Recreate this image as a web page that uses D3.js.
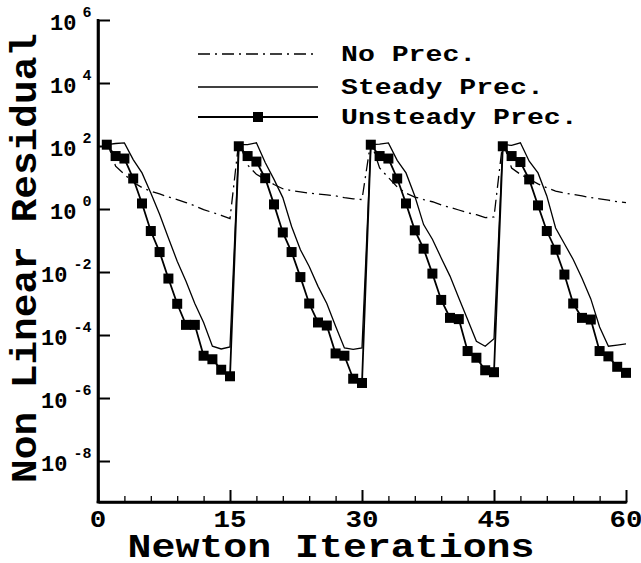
<!DOCTYPE html>
<html>
<head>
<meta charset="utf-8">
<script src="https://cdn.jsdelivr.net/npm/d3@7/dist/d3.min.js"></script>
<style>
  html, body { margin: 0; padding: 0; background: #fff; }
  svg { display: block; }
  text { font-family: "Liberation Mono", "DejaVu Sans Mono", monospace; font-weight: bold; fill: #000; }
</style>
</head>
<body>
<svg id="chart" width="641" height="563"></svg>
<script>
// ---------------- data ----------------
const iterations = [1,2,3,4,5,6,7,8,9,10,11,12,13,14,15,16,17,18,19,20,
  21,22,23,24,25,26,27,28,29,30,31,32,33,34,35,36,37,38,39,40,
  41,42,43,44,45,46,47,48,49,50,51,52,53,54,55,56,57,58,59,60];

const noPrec = [1.4e2,2.3e1,1.26e1,7.1,4.8,3.7,3.0,2.4,2.0,1.6,1.26,0.95,0.78,0.63,0.50,
  1.4e2,2.5e1,1.26e1,8.7,6.0,4.4,3.8,3.5,3.2,3.0,2.8,2.6,2.3,2.1,2.0,
  1.4e2,2.0e1,1.0e1,5.0,3.2,2.4,2.0,1.7,1.35,1.12,0.93,0.76,0.66,0.53,0.56,
  1.4e2,2.0e1,1.26e1,8.9,6.3,4.7,3.7,3.2,2.9,2.6,2.3,2.1,1.9,1.7,1.6];

const steadyPrec = [1.1e2,1.2e2,1.26e2,3.7e1,1.4e1,3.2,6.8e-1,1.2e-1,2.2e-2,5.1e-3,1.0e-3,2.5e-4,4.4e-5,3.6e-5,4.2e-5,
  1.1e2,1.1e2,1.26e2,3.0e1,8.7,2.3,2.8e-1,5.1e-2,1.5e-2,3.5e-3,1.0e-3,1.9e-4,3.9e-5,3.5e-5,3.9e-5,
  1.1e2,1.15e2,1.26e2,3.5e1,1.4e1,2.6,3.2e-1,1.1e-1,2.8e-2,7.4e-3,1.5e-3,3.1e-4,6.3e-5,4.4e-5,7.6e-5,
  1.1e2,1.05e2,1.26e2,3.3e1,1.4e1,2.6,2.5e-1,7.9e-2,2.5e-2,6.3e-3,1.4e-3,1.8e-4,4.4e-5,4.8e-5,5.2e-5];

const unsteadyPrec = [1.1e2,4.8e1,4.0e1,9.3,1.5,2.0e-1,4.3e-2,6.2e-3,9.8e-4,2.1e-4,2.1e-4,2.2e-5,1.7e-5,7.9e-6,4.9e-6,
  9.8e1,4.8e1,3.2e1,9.5,1.4,1.8e-1,4.3e-2,6.9e-3,1.0e-3,2.5e-4,2.0e-4,2.6e-5,2.2e-5,4.1e-6,3.0e-6,
  1.1e2,4.8e1,4.0e1,9.3,1.5,2.1e-1,5.5e-2,8.9e-3,1.3e-3,3.5e-4,3.2e-4,3.1e-5,1.9e-5,7.6e-6,6.6e-6,
  9.8e1,4.8e1,3.1e1,8.7,1.3,2.0e-1,5.1e-2,8.3e-3,1.0e-3,3.5e-4,3.1e-4,3.1e-5,2.1e-5,9.8e-6,6.3e-6];

const xTicks = [0, 15, 30, 45, 60];
const xMinorTicks = [3,6,9,12,18,21,24,27,33,36,39,42,48,51,54,57];
const yTickExponents = [6, 4, 2, 0, -2, -4, -6, -8];
const seriesNames = ["No Prec.", "Steady Prec.", "Unsteady Prec."];
const xTitle = "Newton Iterations";
const yTitle = "Non Linear Residual";

// ---------------- layout ----------------
const svg = d3.select("#chart");
const x = d3.scaleLinear().domain([0, 60]).range([98, 626]);
const y = d3.scaleLog().domain([5e-10, 1e6]).range([502, 20]);

// series lines
const line = vals => d3.line()
  .x((d, i) => x(iterations[i]))
  .y(d => y(d))(vals);

svg.append("path").attr("d", line(noPrec))
  .attr("fill", "none").attr("stroke", "#000").attr("stroke-width", 1.3)
  .attr("stroke-dasharray", "12,5,2,5");
svg.append("path").attr("d", line(steadyPrec))
  .attr("fill", "none").attr("stroke", "#000").attr("stroke-width", 1.3);
svg.append("path").attr("d", line(unsteadyPrec))
  .attr("fill", "none").attr("stroke", "#000").attr("stroke-width", 1.8);
svg.append("g").selectAll("rect").data(unsteadyPrec).join("rect")
  .attr("x", (d, i) => x(iterations[i]) - 5)
  .attr("y", d => y(d) - 5)
  .attr("width", 10).attr("height", 10).attr("fill", "#000");

// axes
const xAxis = svg.append("g").attr("transform", "translate(0,502)")
  .call(d3.axisBottom(x).tickValues(xTicks).tickSizeInner(-12).tickSizeOuter(0).tickFormat(""));
const xMinor = svg.append("g").attr("transform", "translate(0,502)")
  .call(d3.axisBottom(x).tickValues(xMinorTicks).tickSizeInner(-6).tickSizeOuter(0).tickFormat(""));
xMinor.select(".domain").remove();
const yAxis = svg.append("g").attr("transform", "translate(98,0)")
  .call(d3.axisLeft(y).tickValues(yTickExponents.map(e => Math.pow(10, e))).tickSizeInner(-12).tickSizeOuter(0).tickFormat(""));
[xAxis, xMinor, yAxis].forEach(g => {
  g.selectAll(".domain").attr("stroke", "#000").attr("stroke-width", 2.6);
  g.selectAll(".tick line").attr("stroke", "#000").attr("stroke-width", 2);
});
xMinor.selectAll(".tick line").attr("stroke-width", 1.3);
svg.append("line").attr("x1", 96.7).attr("x2", 627.3).attr("y1", 502).attr("y2", 502)
  .attr("stroke", "#000").attr("stroke-width", 2.6);
svg.append("line").attr("x1", 98).attr("x2", 98).attr("y1", 19).attr("y2", 503.3)
  .attr("stroke", "#000").attr("stroke-width", 2.6);

// x tick labels
svg.append("g").selectAll("text").data(xTicks).join("text")
  .attr("x", d => x(d)).attr("y", 527)
  .attr("text-anchor", "middle").attr("font-size", 23)
  .attr("textLength", d => String(d).length * 16.5).attr("lengthAdjust", "spacingAndGlyphs")
  .text(d => d);

// y tick labels (10 with superscript exponent)
const yl = svg.append("g").selectAll("text").data(yTickExponents).join("text")
  .attr("x", 91.5).attr("y", d => y(Math.pow(10, d)) + 10)
  .attr("text-anchor", "end").attr("font-size", 22);
yl.append("tspan").text("10");
yl.append("tspan").attr("dx", 6).attr("dy", -13.4).attr("font-size", 15).text(d => d);

// axis titles
svg.append("text").attr("x", 331).attr("y", 557).attr("text-anchor", "middle")
  .attr("font-size", 33).attr("textLength", 407).attr("lengthAdjust", "spacingAndGlyphs")
  .text(xTitle);
svg.append("text").attr("transform", "translate(36,258) rotate(-90)").attr("text-anchor", "middle")
  .attr("font-size", 36).attr("textLength", 450).attr("lengthAdjust", "spacingAndGlyphs")
  .text(yTitle);

// legend
const legendY = [54, 87, 117];
const styles = [
  { w: 1.3, dash: "12,5,2,5", marker: false },
  { w: 1.3, dash: null, marker: false },
  { w: 1.8, dash: null, marker: true }
];
seriesNames.forEach((name, i) => {
  const g = svg.append("g");
  g.append("line").attr("x1", 198).attr("x2", 318).attr("y1", legendY[i]).attr("y2", legendY[i])
    .attr("stroke", "#000").attr("stroke-width", styles[i].w)
    .attr("stroke-dasharray", styles[i].dash);
  if (styles[i].marker) {
    g.append("rect").attr("x", 253).attr("y", legendY[i] - 5).attr("width", 10).attr("height", 10).attr("fill", "#000");
  }
  g.append("text").attr("x", 341).attr("y", legendY[i] + 7).attr("font-size", 22)
    .attr("textLength", name.length * 16.9).attr("lengthAdjust", "spacingAndGlyphs")
    .text(name);
});
</script>
</body>
</html>
